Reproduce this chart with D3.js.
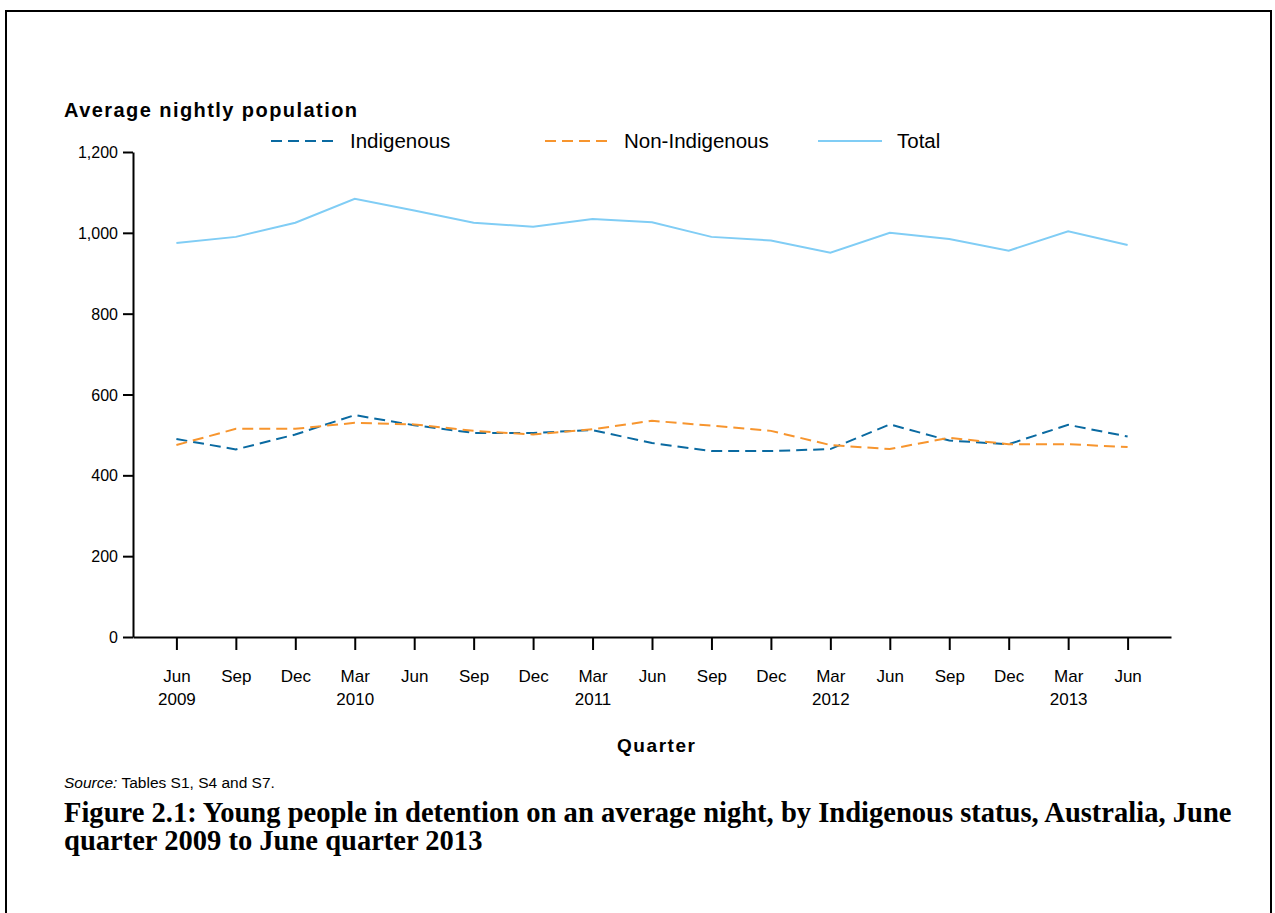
<!DOCTYPE html>
<html>
<head>
<meta charset="utf-8">
<script src="https://cdn.jsdelivr.net/npm/d3@7"></script>
<style>
  html, body { margin: 0; padding: 0; background: #fff; }
  svg { display: block; }
  text { font-family: "Liberation Sans", Arial, sans-serif; fill: #000; }
</style>
</head>
<body>
<svg id="chart" width="1275" height="913"></svg>
<script>
const quarters = ["Jun","Sep","Dec","Mar","Jun","Sep","Dec","Mar","Jun","Sep","Dec","Mar","Jun","Sep","Dec","Mar","Jun"];
const years    = ["2009","","","2010","","","","2011","","","","2012","","","","2013",""];
const indigenous    = [490, 464, 501, 549, 524, 505, 505, 512, 480, 460, 460, 465, 526, 486, 477, 525, 496];
const nonIndigenous = [475, 515, 515, 530, 526, 510, 501, 514, 535, 523, 510, 475, 465, 493, 477, 477, 470];
const total         = [975, 990, 1025, 1084, 1055, 1025, 1015, 1034, 1026, 990, 981, 951, 1000, 985, 956, 1004, 970];
const yTicks = [0, 200, 400, 600, 800, 1000, 1200];

const seriesNames  = ["Indigenous", "Non-Indigenous", "Total"];
const seriesColors = ["#0a6aa1", "#f7952e", "#80cdf5"];
const seriesDash   = ["11,6", "11,6", null];

const svg = d3.select("#chart");
const idx = d3.range(quarters.length);

const x = d3.scalePoint().domain(idx).range([133, 1171]).padding(0.73);
const y = d3.scaleLinear().domain([0, 1200]).range([637, 152]);

// border
svg.append("rect").attr("x", 6).attr("y", 11).attr("width", 1265).attr("height", 1000)
  .attr("fill", "none").attr("stroke", "#000").attr("stroke-width", 2);

// y axis
const yAxis = svg.append("g").attr("transform", "translate(133,0)")
  .call(d3.axisLeft(y).tickValues(yTicks).tickSize(10).tickSizeOuter(0).tickPadding(5)
    .tickFormat(d3.format(",")));
yAxis.select(".domain").attr("stroke", "#000").attr("stroke-width", 2);
yAxis.selectAll(".tick line").attr("stroke", "#000").attr("stroke-width", 2);
yAxis.selectAll(".tick text").style("font-size", "16px").attr("dy", "0.35em");

// x axis
const xAxis = svg.append("g").attr("transform", "translate(0,637)")
  .call(d3.axisBottom(x).tickSize(13).tickSizeOuter(0).tickFormat(() => ""));
xAxis.select(".domain").attr("stroke", "#000").attr("stroke-width", 2);
xAxis.selectAll(".tick line").attr("stroke", "#000").attr("stroke-width", 2);
xAxis.selectAll(".tick").each(function(d) {
  const g = d3.select(this).select("text").text(null).attr("y", 0).attr("dy", null)
    .style("font-size", "17px").attr("text-anchor", "middle");
  g.append("tspan").attr("x", 0).attr("y", 45).text(quarters[d]);
  if (years[d]) g.append("tspan").attr("x", 0).attr("y", 68).text(years[d]);
});

// lines
const line = d3.line().x((d, i) => x(i)).y(d => y(d));
[indigenous, nonIndigenous, total].forEach((s, k) => {
  svg.append("path").datum(s).attr("d", line).attr("fill", "none")
    .attr("stroke", seriesColors[k]).attr("stroke-width", 2)
    .attr("stroke-dasharray", seriesDash[k]);
});

// legend
const legX = [271, 545, 818];
seriesNames.forEach((n, k) => {
  svg.append("line").attr("x1", legX[k]).attr("x2", legX[k] + 64).attr("y1", 141).attr("y2", 141)
    .attr("stroke", seriesColors[k]).attr("stroke-width", 2).attr("stroke-dasharray", seriesDash[k]);
  svg.append("text").attr("x", legX[k] + 79).attr("y", 141).attr("dy", "0.35em")
    .style("font-size", "20.5px").text(n);
});

// y title
svg.append("text").attr("x", 64).attr("y", 117).style("font-size", "20px").style("font-weight", "bold")
  .attr("textLength", 293).attr("lengthAdjust", "spacing").text("Average nightly population");

// x title
svg.append("text").attr("x", 656).attr("y", 752).attr("text-anchor", "middle")
  .style("font-size", "19px").style("font-weight", "bold").attr("textLength", 78).attr("lengthAdjust", "spacing")
  .text("Quarter");

// source
const src = svg.append("text").attr("x", 64).attr("y", 788).style("font-size", "15.5px");
src.append("tspan").style("font-style", "italic").text("Source:");
src.append("tspan").text(" Tables S1, S4 and S7.");

// caption
const capFont = '"Palatino Linotype", "Book Antiqua", "Liberation Serif", "DejaVu Serif", serif';
const cap1 = svg.append("text").attr("x", 64).attr("y", 822).style("font-family", capFont)
  .style("font-weight", "bold").style("font-size", "20px")
  .text("Figure 2.1: Young people in detention on an average night, by Indigenous status, Australia, June");
const w = cap1.node().getComputedTextLength();
const fs = 20 * 1168 / w;
cap1.style("font-size", fs + "px");
svg.append("text").attr("x", 64).attr("y", 850).style("font-family", capFont)
  .style("font-weight", "bold").style("font-size", fs + "px")
  .text("quarter 2009 to June quarter 2013");
</script>
</body>
</html>
